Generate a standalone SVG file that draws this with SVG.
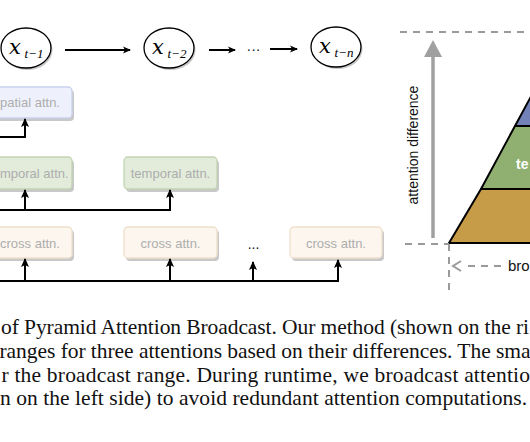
<svg xmlns="http://www.w3.org/2000/svg" width="530" height="442" viewBox="0 0 530 442">
<defs>
<marker id="ah" markerWidth="8" markerHeight="8" refX="7" refY="4" orient="auto" markerUnits="userSpaceOnUse"><path d="M0,0.5 L8,4 L0,7.5 L2,4 Z" fill="#000"/></marker>
<marker id="up" markerWidth="9" markerHeight="9" refX="8" refY="4.5" orient="auto" markerUnits="userSpaceOnUse"><path d="M0,0.5 L9,4.5 L0,8.5 L2,4.5 Z" fill="#000"/></marker>
</defs>
<style>
.sh{fill:#c8c8c8}
.el{fill:#fff;stroke:#000;stroke-width:1.3}
.mx{font-family:"DejaVu Serif",serif;font-style:italic;fill:#000}
.ms{font-family:"Liberation Serif",serif;font-style:italic;fill:#000;font-size:13px}
.bl{font-family:"Liberation Sans",Arial,sans-serif;font-size:13px;fill:#adadad}
.sp{fill:#eef1fc;stroke:#c9d1ee;stroke-width:1.3}
.tp{fill:#e3ecdb;stroke:#c2d3b3;stroke-width:1.3}
.cr{fill:#fcf6ef;stroke:#efe0ca;stroke-width:1.3}
.ln{fill:none;stroke:#000;stroke-width:2}
.dsh{fill:none;stroke:#9a9a9a;stroke-width:2;stroke-dasharray:7 6}
.cap{font-family:"Liberation Serif","Times New Roman",serif;font-size:21.5px;fill:#111}
.lab{font-family:"Liberation Sans",Arial,sans-serif;fill:#111}
</style>
<rect width="530" height="442" fill="#fff"/>

<g id="x1">
<ellipse class="sh" cx="27.5" cy="50" rx="25" ry="20"/>
<ellipse class="el" cx="26" cy="48" rx="25" ry="20"/>
<text class="mx" x="9" y="54" font-size="21">x</text><text class="ms" x="24.5" y="57.5">t−1</text>
</g>
<g id="x2">
<ellipse class="sh" cx="170.5" cy="50" rx="25" ry="20"/>
<ellipse class="el" cx="169" cy="48" rx="25" ry="20"/>
<text class="mx" x="152" y="54" font-size="21">x</text><text class="ms" x="167.5" y="57.5">t−2</text>
</g>
<g id="xn">
<ellipse class="sh" cx="337.5" cy="49" rx="25" ry="20"/>
<ellipse class="el" cx="336" cy="47" rx="25" ry="20"/>
<text class="mx" x="319" y="53" font-size="21">x</text><text class="ms" x="334.5" y="56.5">t−n</text>
</g>
<g id="dots-top"><text class="lab" x="253.5" y="54" font-size="14" text-anchor="middle">···</text></g>

<g id="spatial">
<rect class="sh" x="-19" y="90" width="93" height="31" rx="4"/>
<rect class="sp" x="-21" y="87" width="93" height="31" rx="4"/>
<text class="bl" x="0" y="107">patial attn.</text>
</g>
<g id="temporal1">
<rect class="sh" x="-19" y="160" width="93" height="32" rx="4"/>
<rect class="tp" x="-21" y="157" width="93" height="32" rx="4"/>
<text class="bl" x="0" y="178">mporal attn.</text>
</g>
<g id="temporal2">
<rect class="sh" x="126" y="160" width="93" height="32" rx="4"/>
<rect class="tp" x="124" y="157" width="93" height="32" rx="4"/>
<text class="bl" x="170.5" y="178" text-anchor="middle">temporal attn.</text>
</g>
<g id="cross1">
<rect class="sh" x="-19" y="230" width="93" height="31" rx="4"/>
<rect class="cr" x="-21" y="227" width="93" height="31" rx="4"/>
<text class="bl" x="0" y="248">cross attn.</text>
</g>
<g id="cross2">
<rect class="sh" x="126" y="230" width="93" height="31" rx="4"/>
<rect class="cr" x="124" y="227" width="93" height="31" rx="4"/>
<text class="bl" x="170.5" y="248" text-anchor="middle">cross attn.</text>
</g>
<g id="dots-mid"><text class="lab" x="253.5" y="249" font-size="14" text-anchor="middle">...</text></g>
<g id="cross3">
<rect class="sh" x="292" y="230" width="92" height="31" rx="4"/>
<rect class="cr" x="290" y="227" width="92" height="31" rx="4"/>
<text class="bl" x="336" y="248" text-anchor="middle">cross attn.</text>
</g>

<g id="connectors">
<path class="ln" d="M65,50 H130" stroke-width="1.6" marker-end="url(#ah)"/>
<path class="ln" d="M209,50 H235" stroke-width="1.6" marker-end="url(#ah)"/>
<path class="ln" d="M270,49 H297" stroke-width="1.6" marker-end="url(#ah)"/>
<path class="ln" d="M0,137 H25 V119" marker-end="url(#up)"/>
<path class="ln" d="M0,210 H170 V190" marker-end="url(#up)"/>
<path class="ln" d="M25,210 V190" marker-end="url(#up)"/>
<path class="ln" d="M0,281 H338 V260" marker-end="url(#up)"/>
<path class="ln" d="M25,281 V259" marker-end="url(#up)"/>
<path class="ln" d="M170,281 V259" marker-end="url(#up)"/>
<path class="ln" d="M253,281 V262" marker-end="url(#up)"/>
</g>

<g id="pyramid">
<polygon points="449,243 481,189 540,189 540,243" fill="#c69c48" stroke="#000" stroke-width="2" stroke-linejoin="round"/>
<polygon points="481,189 515,126 540,126 540,189" fill="#8fb070" stroke="#000" stroke-width="2" stroke-linejoin="round"/>
<polygon points="515,126 535,89 540,89 540,126" fill="#7282b9" stroke="#000" stroke-width="2" stroke-linejoin="round"/>
<text x="516" y="169" font-family="Liberation Sans,Arial,sans-serif" font-weight="bold" font-size="14" fill="#fff">te</text>
</g>

<g id="axis">
<path class="dsh" d="M400,32 H530"/>
<path d="M433,238 V55" stroke="#a0a0a0" stroke-width="3.5" fill="none"/>
<polygon points="424,57 433,40 442,57" fill="#a0a0a0"/>
<text class="lab" font-size="14" transform="translate(418,145) rotate(-90)" text-anchor="middle">attention difference</text>
<path class="dsh" d="M405,244 H449"/>
<path class="dsh" d="M449,244 V292"/>
<path d="M461,261 L453,266 L461,271" fill="none" stroke="#9a9a9a" stroke-width="2"/>
<path class="dsh" d="M468,266 H506"/>
<text class="lab" x="508" y="271" font-size="15">bro</text>
</g>

<g id="caption">
<text class="cap" x="1" y="334" textLength="528" lengthAdjust="spacing">of Pyramid Attention Broadcast. Our method (shown on the ri</text>
<text class="cap" x="-0.5" y="357.5" textLength="531" lengthAdjust="spacing">ranges for three attentions based on their differences. The sma</text>
<text class="cap" x="1.5" y="381.5" textLength="528.5" lengthAdjust="spacing">r the broadcast range. During runtime, we broadcast attentio</text>
<text class="cap" x="0" y="404.5" textLength="527" lengthAdjust="spacing">n on the left side) to avoid redundant attention computations.</text>
</g>
</svg>
